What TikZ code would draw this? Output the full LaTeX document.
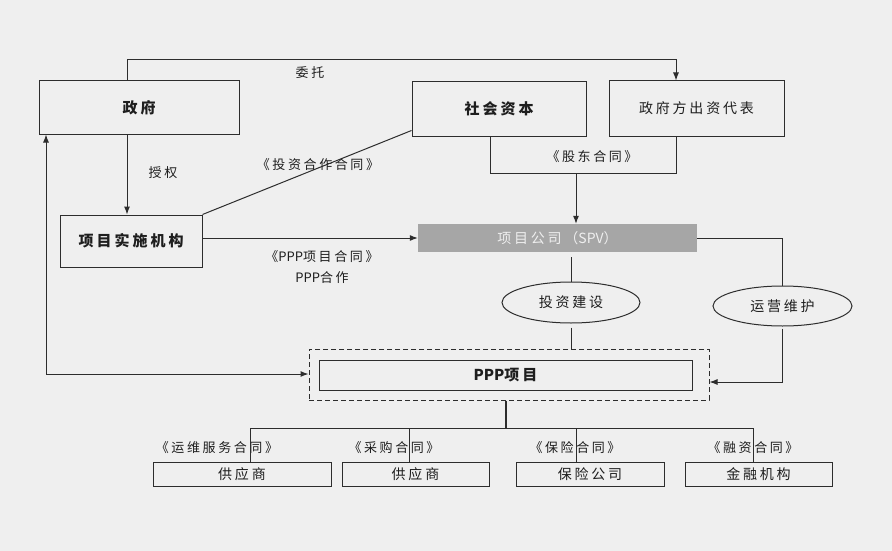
\documentclass[tikz,border=0pt]{standalone}
\usepackage{fontspec}
\setmainfont{Noto Sans CJK SC}[LetterSpace=20]
\newfontfamily\plainlat{Noto Sans CJK SC}
\usetikzlibrary{arrows.meta,shapes.geometric}
\definecolor{bgcol}{RGB}{239,239,239}
\definecolor{linecol}{RGB}{45,45,45}
\definecolor{txtcol}{RGB}{30,30,30}
\definecolor{spvcol}{RGB}{166,166,166}
\begin{document}
\begin{tikzpicture}[x=1pt, y=-1pt, >={Latex[length=8pt,width=6pt]},
  every node/.style={text=txtcol},
  box/.style={draw=linecol, line width=1pt, inner sep=0pt, font=\fontsize{14}{16}\selectfont},
  bbox/.style={box, font=\fontsize{15}{17}\selectfont\bfseries},
  oval/.style={ellipse, draw=linecol, line width=1pt, inner sep=0pt, font=\fontsize{14}{16}\selectfont},
  lbl/.style={inner sep=0pt, font=\fontsize{13}{15}\selectfont},
  conn/.style={draw=linecol, line width=1pt}]
\fill[bgcol] (0,0) rectangle (892,551);
\useasboundingbox (0,0) rectangle (892,551);
% boxes
\node[bbox, minimum width=200, minimum height=53](gov) at (139, 107.5) {政府};
\node[bbox, minimum width=174, minimum height=54](soc) at (499, 109) {社会资本};
\node[box, minimum width=175, minimum height=55](rep) at (696.5, 108.5) {政府方出资代表};
\node[bbox, minimum width=142, minimum height=52](impl) at (131, 241) {项目实施机构};
\node[inner sep=0pt, fill=spvcol, minimum width=279, minimum height=28, text=bgcol, font=\fontsize{14}{16}\selectfont](spv) at (557.5, 238) {项目公司（{\plainlat SPV}）};
\node[oval, minimum width=138, minimum height=41](inv) at (571, 302.5) {投资建设};
\node[oval, minimum width=139, minimum height=40](om) at (782.5, 306) {运营维护};
\node[draw=linecol, line width=1pt, dash pattern=on 5pt off 3pt, minimum width=400, minimum height=51](frame) at (509, 374.5) {};
\node[bbox, minimum width=373, minimum height=30](ppp) at (505.5, 375) {{\plainlat PPP}项目};
\node[box, minimum width=178, minimum height=24](sup1) at (242, 474) {供应商};
\node[box, minimum width=147, minimum height=24](sup2) at (415.5, 474) {供应商};
\node[box, minimum width=148, minimum height=24](ins) at (590, 474) {保险公司};
\node[box, minimum width=147, minimum height=24](fin) at (758.5, 474) {金融机构};
% labels
\node[lbl](l1) at (310, 73) {委托};
\node[lbl](l2) at (163, 173) {授权};
\node[lbl](l3) at (318, 165) {《投资合作合同》};
\node[lbl](l4) at (592, 157) {《股东合同》};
\node[lbl](l5) at (322, 257) {《{\plainlat PPP}项目合同》};
\node[lbl](l6) at (322, 278) {{\plainlat PPP}合作};
\node[lbl](l7) at (217, 448) {《运维服务合同》};
\node[lbl](l8) at (394, 448) {《采购合同》};
\node[lbl](l9) at (575, 448) {《保险合同》};
\node[lbl](l10) at (753, 448) {《融资合同》};
% turning points
\coordinate (c1) at (127, 60);
\coordinate (c2) at (676, 60);
\coordinate (c4) at (490, 173);
\coordinate (c5) at (676, 173);
\coordinate (c6) at (576, 173);
\coordinate (c7) at (782.5, 382);
\coordinate (c8) at (46, 374);
\coordinate (c9) at (506, 428);
\coordinate (b1) at (250, 428);
\coordinate (b2) at (409, 428);
\coordinate (b3) at (576, 428);
\coordinate (b4) at (753, 428);
% connectors
\draw[conn, ->] (gov.north -| c1) -- (c1) -- (c2) -- (rep.north -| c2);
\draw[conn, ->] (gov.south -| c1) -- (impl.north -| c1);
\draw[conn] (impl.north east) -- ([yshift=6pt]soc.south west);
\draw[conn] (soc.south -| c4) -- (c4) -- (c5) -- (rep.south -| c5);
\draw[conn, ->] (c6) -- (spv.north -| c6);
\draw[conn, ->] (impl.east |- spv.west) -- (spv.west);
\draw[conn] (spv.east) -| (om.north);
\draw[conn] ([yshift=-5pt]spv.south -| inv.north) -- (inv.north);
\draw[conn] ([yshift=-4pt]inv.south) -- (inv.south |- frame.north);
\draw[conn, ->] ([yshift=-2pt]om.south) -- (c7) -- (frame.east |- c7);
\draw[conn, <->] (gov.south -| c8) -- (c8) -- (frame.west |- c8);
\draw[conn, line width=1.8pt] (frame.south -| c9) -- (c9);
\draw[conn] (b1) -- (b4);
\draw[conn] (b1) -- (sup1.north -| b1);
\draw[conn] (b2) -- (sup2.north -| b2);
\draw[conn] (b3) -- (ins.north -| b3);
\draw[conn] (b4) -- (fin.north -| b4);
\end{tikzpicture}
\end{document}
